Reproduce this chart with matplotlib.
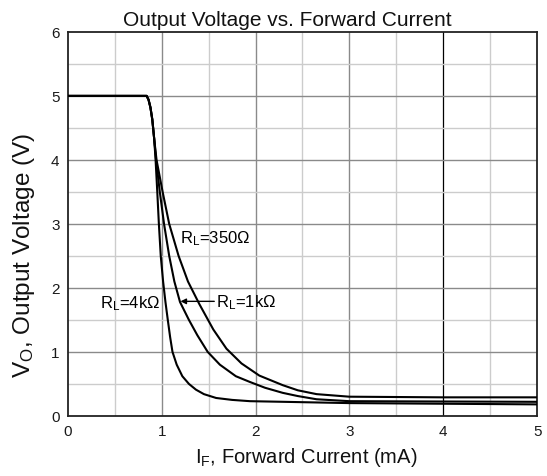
import matplotlib
matplotlib.use("Agg")
import matplotlib.pyplot as plt

plt.rcParams['font.family'] = ['Liberation Sans', 'DejaVu Sans']
plt.rcParams['mathtext.default'] = 'regular'

# Data (I_F in mA, V_O in V)
x_4k = [0, 0.84, 0.86, 0.88, 0.90, 0.92, 0.935, 0.953, 0.97, 0.99, 1.015, 1.04, 1.065,
        1.09, 1.115, 1.16, 1.22, 1.29, 1.365, 1.45, 1.58, 1.75, 1.94, 2.3, 2.65, 3.0, 4.0, 5.0]
y_4k = [5.0, 5.0, 4.94, 4.82, 4.63, 4.33, 4.0, 3.5, 3.0, 2.5, 2.1, 1.78, 1.5,
        1.23, 1.0, 0.8, 0.62, 0.5, 0.41, 0.34, 0.28, 0.25, 0.23, 0.22, 0.21, 0.20, 0.19, 0.18]

x_1k = [0, 0.84, 0.86, 0.88, 0.90, 0.92, 0.94, 0.98, 1.025, 1.08, 1.135, 1.195, 1.29,
        1.38, 1.49, 1.62, 1.79, 1.94, 2.1, 2.29, 2.45, 2.65, 3.0, 4.0, 5.0]
y_1k = [5.0, 5.0, 4.94, 4.82, 4.63, 4.33, 4.0, 3.5, 3.0, 2.5, 2.1, 1.78, 1.5,
        1.26, 1.0, 0.8, 0.62, 0.53, 0.44, 0.36, 0.31, 0.26, 0.23, 0.225, 0.22]

x_350 = [0, 0.84, 0.86, 0.88, 0.90, 0.92, 0.945, 1.01, 1.08, 1.18, 1.28, 1.40, 1.55,
         1.69, 1.85, 2.04, 2.29, 2.45, 2.65, 3.0, 4.0, 5.0]
y_350 = [5.0, 5.0, 4.94, 4.82, 4.63, 4.33, 4.0, 3.5, 3.0, 2.5, 2.1, 1.75, 1.35,
         1.05, 0.82, 0.63, 0.48, 0.40, 0.34, 0.30, 0.29, 0.29]

x_ticks = [0, 1, 2, 3, 4, 5]
y_ticks = [0, 1, 2, 3, 4, 5, 6]

fig = plt.figure(figsize=(5.47, 4.77), dpi=100)
ax = fig.add_axes([0.124, 0.126, 0.858, 0.805])

ax.set_xlim(0, 5)
ax.set_ylim(0, 6)

# grid
for v in [0.5, 1.5, 2.5, 3.5, 4.5]:
    ax.axvline(v, color='#cccccc', lw=1.0, zorder=0)
for v in [1, 2, 3]:
    ax.axvline(v, color='#8a8a8a', lw=1.0, zorder=0)
ax.axvline(4, color='#000000', lw=0.9, zorder=0)
for v in [0.5, 1.5, 2.5, 3.5, 4.5, 5.5]:
    ax.axhline(v, color='#cccccc', lw=1.0, zorder=0)
for v in [1, 2, 3, 4, 5]:
    ax.axhline(v, color='#8a8a8a', lw=1.0, zorder=0)

for xs, ys in [(x_4k, y_4k), (x_1k, y_1k), (x_350, y_350)]:
    ax.plot(xs, ys, color='black', lw=1.5, solid_joinstyle='round', zorder=3)

ax.set_xticks(x_ticks)
ax.set_yticks(y_ticks)
ax.tick_params(length=0, labelsize=11, pad=6, colors='#1a1a1a')
for s in ax.spines.values():
    s.set_color('#222222')
    s.set_linewidth(1.3)

fig.text(0.525, 0.945, 'Output Voltage vs. Forward Current', fontsize=15,
         ha='center', va='baseline', color='#111111')
fig.text(0.559, 0.029, 'I$_F$, Forward Current (mA)', fontsize=14.5,
         ha='center', va='baseline', color='#111111')
fig.text(0.044, 0.465, 'V$_O$, Output Voltage (V)', fontsize=17.5, rotation=90,
         ha='center', va='center', color='#111111')

ax.text(1.19, 2.79, 'R$_L$=350Ω', fontsize=12, va='center', ha='left', zorder=4)
ax.text(0.98, 1.77, 'R$_L$=4kΩ', fontsize=12, va='center', ha='right', zorder=4)
ax.text(1.58, 1.78, 'R$_L$=1kΩ', fontsize=12, va='center', ha='left', zorder=4)
ax.annotate('', xy=(1.2, 1.79), xytext=(1.56, 1.79),
            arrowprops=dict(arrowstyle='-|>', color='black', lw=1.0,
                            mutation_scale=8, shrinkA=0, shrinkB=0), zorder=4)

fig.savefig('out.png', dpi=100)
